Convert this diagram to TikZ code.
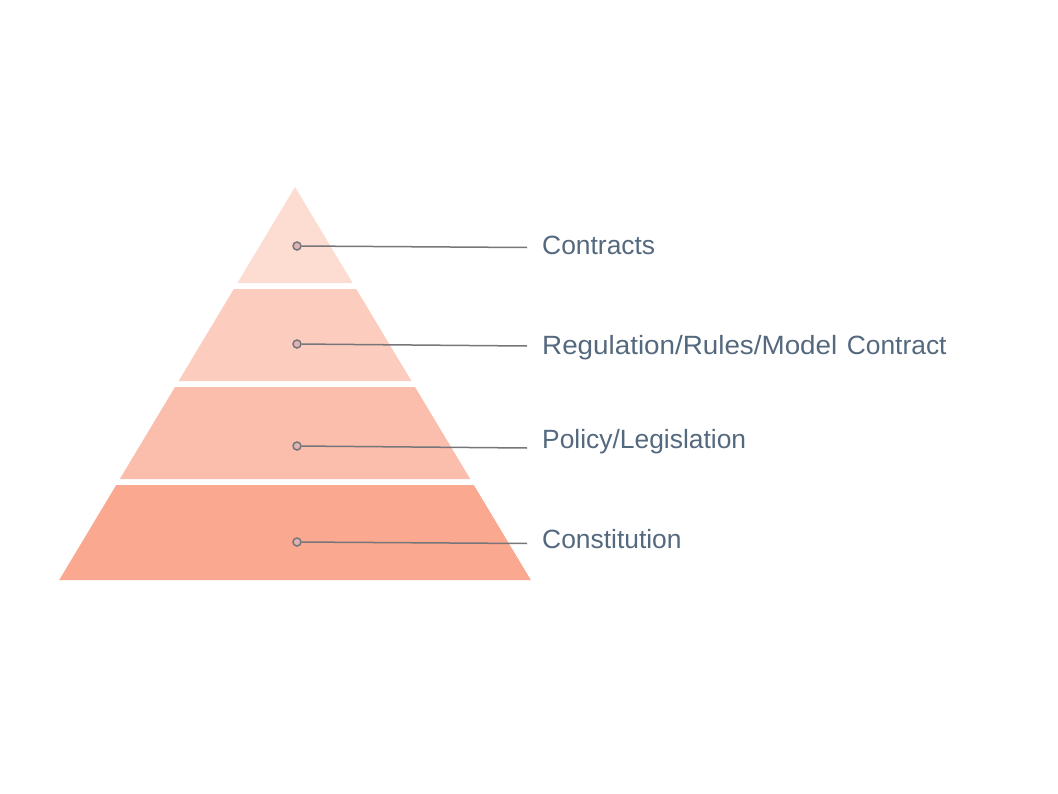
\documentclass[tikz,border=0pt]{standalone}
\usepackage{fontspec}
\usepackage{graphicx}
\setmainfont{Liberation Sans}
\definecolor{lay1}{RGB}{253,220,209}
\definecolor{lay2}{RGB}{252,205,191}
\definecolor{lay3}{RGB}{251,190,172}
\definecolor{lay4}{RGB}{250,168,143}
\definecolor{txt}{RGB}{84,104,126}
\definecolor{ln}{RGB}{118,118,122}
\definecolor{dotfill}{RGB}{222,180,180}
\tikzset{
  layer/.style={draw=none},
  dot/.style={circle,draw=ln,fill=dotfill,line width=1.5bp,inner sep=0pt,minimum size=8bp},
  leader/.style={draw=ln,line width=1.5bp},
  lbl/.style={anchor=base west,text=txt,font=\fontsize{26.5}{32}\selectfont,inner sep=0pt}
}
\begin{document}
\begin{tikzpicture}[x=1bp,y=-1bp]
\useasboundingbox (0,0) rectangle (1058,794);
% pyramid: apex (295,187), half-width 0.6*(y-187)
\fill[lay1] (295,187) -- (352.6,283) -- (237.4,283) -- cycle;
\fill[lay2] (233.8,289) -- (356.2,289) -- (411.4,381) -- (178.6,381) -- cycle;
\fill[lay3] (175.0,387) -- (415.0,387) -- (470.2,479) -- (119.8,479) -- cycle;
\fill[lay4] (116.2,485) -- (473.8,485) -- (530.8,580) -- (59.2,580) -- cycle;
% dots and leaders
\node[dot] (d1) at (297,246) {};
\node[dot] (d2) at (297,344) {};
\node[dot] (d3) at (297,446) {};
\node[dot] (d4) at (297,542) {};
\coordinate (e1) at (527,247.5);
\coordinate (e2) at (527,346);
\coordinate (e3) at (527,448);
\coordinate (e4) at (527,543.5);
\draw[leader] (d1) -- (e1);
\draw[leader] (d2) -- (e2);
\draw[leader] (d3) -- (e3);
\draw[leader] (d4) -- (e4);
\node[lbl] (t1) at (542,254) {Contracts};
\node[lbl] (t2) at (542,354) {\scalebox{1.053}[1]{Regulation/Rules/Model}\hspace{0.08em} Contract};
\node[lbl] (t3) at (542,448) {Policy/Legislation};
\node[lbl] (t4) at (542,548) {Constitution};
\end{tikzpicture}
\end{document}
